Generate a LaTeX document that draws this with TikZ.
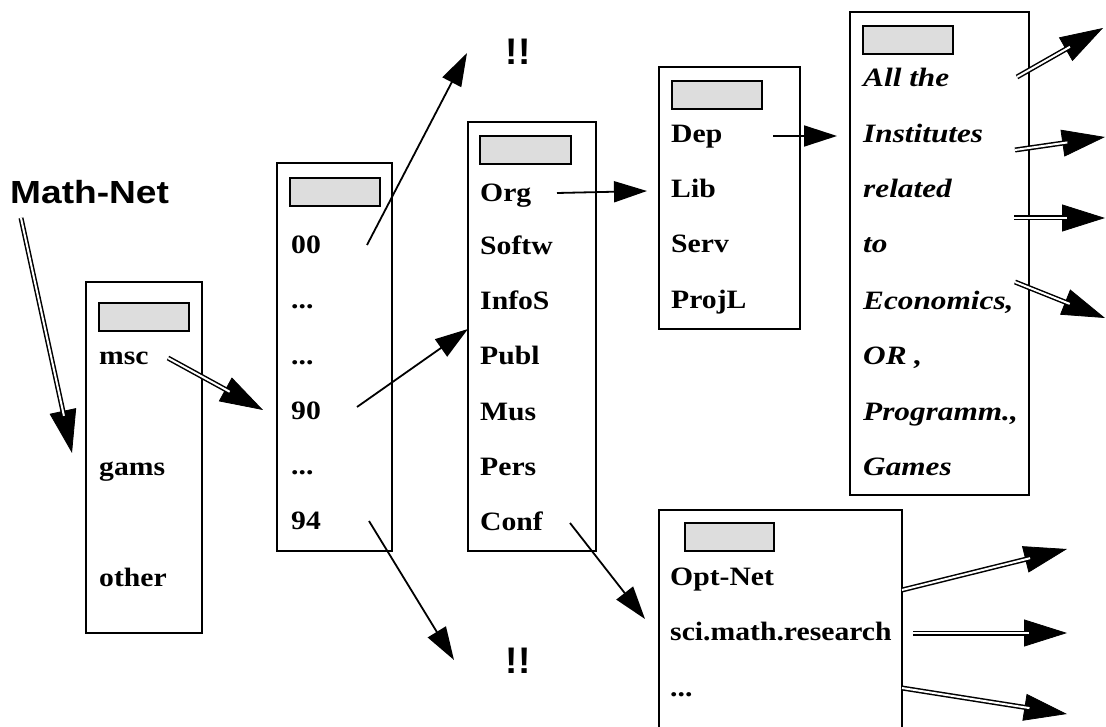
\documentclass[tikz,border=0pt]{standalone}
\usepackage{fontspec}
\setmainfont{Liberation Serif}[FakeStretch=1.12]
\newfontfamily\itfam{Liberation Serif}[FakeStretch=1.18]
\newfontfamily\sansfam{Liberation Sans}[FakeStretch=1.16]
\newfontfamily\bangfam{Liberation Sans}
\usetikzlibrary{arrows.meta}
\definecolor{barfill}{HTML}{DDDDDD}
\tikzset{
  box/.style={draw, line width=1.4pt, inner sep=0pt, outer sep=0pt},
  bar/.style={draw, fill=barfill, line width=1.3pt},
  lbl/.style={anchor=base west, inner sep=0pt, font=\fontsize{26.5}{30}\selectfont\bfseries},
  ilbl/.style={anchor=base west, inner sep=0pt, font=\fontsize{26.5}{30}\selectfont\itfam\bfseries\itshape},
  sarrow/.style={line width=1.8pt, -{Triangle[length=33pt,width=21pt]}},
  dline/.style={double, line width=1.5pt, double distance=2pt, shorten >=38pt},
  dhead/.style={line width=0.8pt, -{Triangle[length=43pt,width=27pt]}},
}
\begin{document}
\begin{tikzpicture}[x=1pt,y=-1pt]
\useasboundingbox (0,0) rectangle (1106,727);
% boxes
\draw[box] (86,282) rectangle (202,633);
\draw[box] (277,163) rectangle (392,551);
\draw[box] (468,122) rectangle (596,551);
\draw[box] (659,67) rectangle (800,329);
\draw[box] (850,12) rectangle (1029,495);
\draw[box] (659,740) -- (659,510) -- (902,510) -- (902,740);
% gray bars
\draw[bar] (99,303) rectangle (189,331);
\draw[bar] (290,178) rectangle (380,206);
\draw[bar] (480,136) rectangle (571,164);
\draw[bar] (672,81) rectangle (762,109);
\draw[bar] (863,26) rectangle (953,54);
\draw[bar] (685,523) rectangle (774,551);
% title
\node[anchor=base west, inner sep=0pt, font=\fontsize{32}{36}\selectfont\sansfam\bfseries] (mathnet) at (10,204) {Math-Net};
\node[anchor=base, inner sep=0pt, font=\fontsize{37}{40}\selectfont\bangfam\bfseries] (bangtop) at (518,65) {!!};
\node[anchor=base, inner sep=0pt, font=\fontsize{37}{40}\selectfont\bangfam\bfseries] (bangbot) at (518,673) {!!};
% box 1
\node[lbl] (msc) at (99,364) {msc};
\node[lbl] (gams) at (99,475) {gams};
\node[lbl] (other) at (99,586) {other};
% box 2
\node[lbl] (n00) at (291,254) {00};
\node[lbl] (d1) at (291,309) {...};
\node[lbl] (d2) at (291,364) {...};
\node[lbl] (n90) at (291,419) {90};
\node[lbl] (d3) at (291,474) {...};
\node[lbl] (n94) at (291,529) {94};
% box 3
\node[lbl] (org) at (480,202) {Org};
\node[lbl] (softw) at (480,255) {Softw};
\node[lbl] (infos) at (480,310) {InfoS};
\node[lbl] (publ) at (480,364) {Publ};
\node[lbl] (mus) at (480,420) {Mus};
\node[lbl] (pers) at (480,475) {Pers};
\node[lbl] (conf) at (480,530) {Conf};
% box 4
\node[lbl] (dep) at (671,143) {Dep};
\node[lbl] (lib) at (671,198) {Lib};
\node[lbl] (serv) at (671,253) {Serv};
\node[lbl] (projl) at (671,309) {ProjL};
% box 5
\node[ilbl] (i1) at (863,87) {All the};
\node[ilbl] (i2) at (863,143) {Institutes};
\node[ilbl] (i3) at (863,198) {related};
\node[ilbl] (i4) at (863,253) {to};
\node[ilbl] (i5) at (863,310) {Economics,};
\node[ilbl] (i6) at (863,365) {OR ,};
\node[ilbl] (i7) at (863,420) {Programm.,};
\node[ilbl] (i8) at (863,475) {Games};
% box 6
\node[lbl] (optnet) at (670,585) {Opt-Net};
\node[lbl] (scimath) at (670,640) {sci.math.research};
\node[lbl] (d4) at (670,696) {...};
% connector coordinates
\coordinate (mnS) at (21,218);  \coordinate (mnE) at (72,453);
\coordinate (mscS) at (168,358); \coordinate (mscE) at (263,410);
\coordinate (a00S) at (367,245); \coordinate (a00E) at (467,53);
\coordinate (a90S) at (357,407); \coordinate (a90E) at (468,329);
\coordinate (a94S) at (369,521); \coordinate (a94E) at (454,660);
\coordinate (orgS) at (557,193); \coordinate (orgE) at (647,191);
\coordinate (confS) at (570,523); \coordinate (confE) at (645,619);
\coordinate (depS) at (773,136); \coordinate (depE) at (837,136);
\coordinate (r1S) at (1017,77);  \coordinate (r1E) at (1103,28);
\coordinate (r2S) at (1015,150); \coordinate (r2E) at (1105,137);
\coordinate (r3S) at (1014,218); \coordinate (r3E) at (1105,218);
\coordinate (r4S) at (1015,282); \coordinate (r4E) at (1105,318);
\coordinate (o1S) at (902,590);  \coordinate (o1E) at (1067,549);
\coordinate (o2S) at (913,633);  \coordinate (o2E) at (1067,633);
\coordinate (o3S) at (902,688);  \coordinate (o3E) at (1067,714);
% single arrows
\draw[sarrow] (a00S) -- (a00E);
\draw[sarrow] (a90S) -- (a90E);
\draw[sarrow] (a94S) -- (a94E);
\draw[sarrow] (orgS) -- (orgE);
\draw[sarrow] (confS) -- (confE);
\draw[sarrow] (depS) -- (depE);
% double arrows
\foreach \p in {mn,msc,r1,r2,r3,r4,o1,o2,o3}{
  \draw[dhead] (\p S) -- (\p E);
  \draw[dline] (\p S) -- (\p E);
}
\end{tikzpicture}
\end{document}
